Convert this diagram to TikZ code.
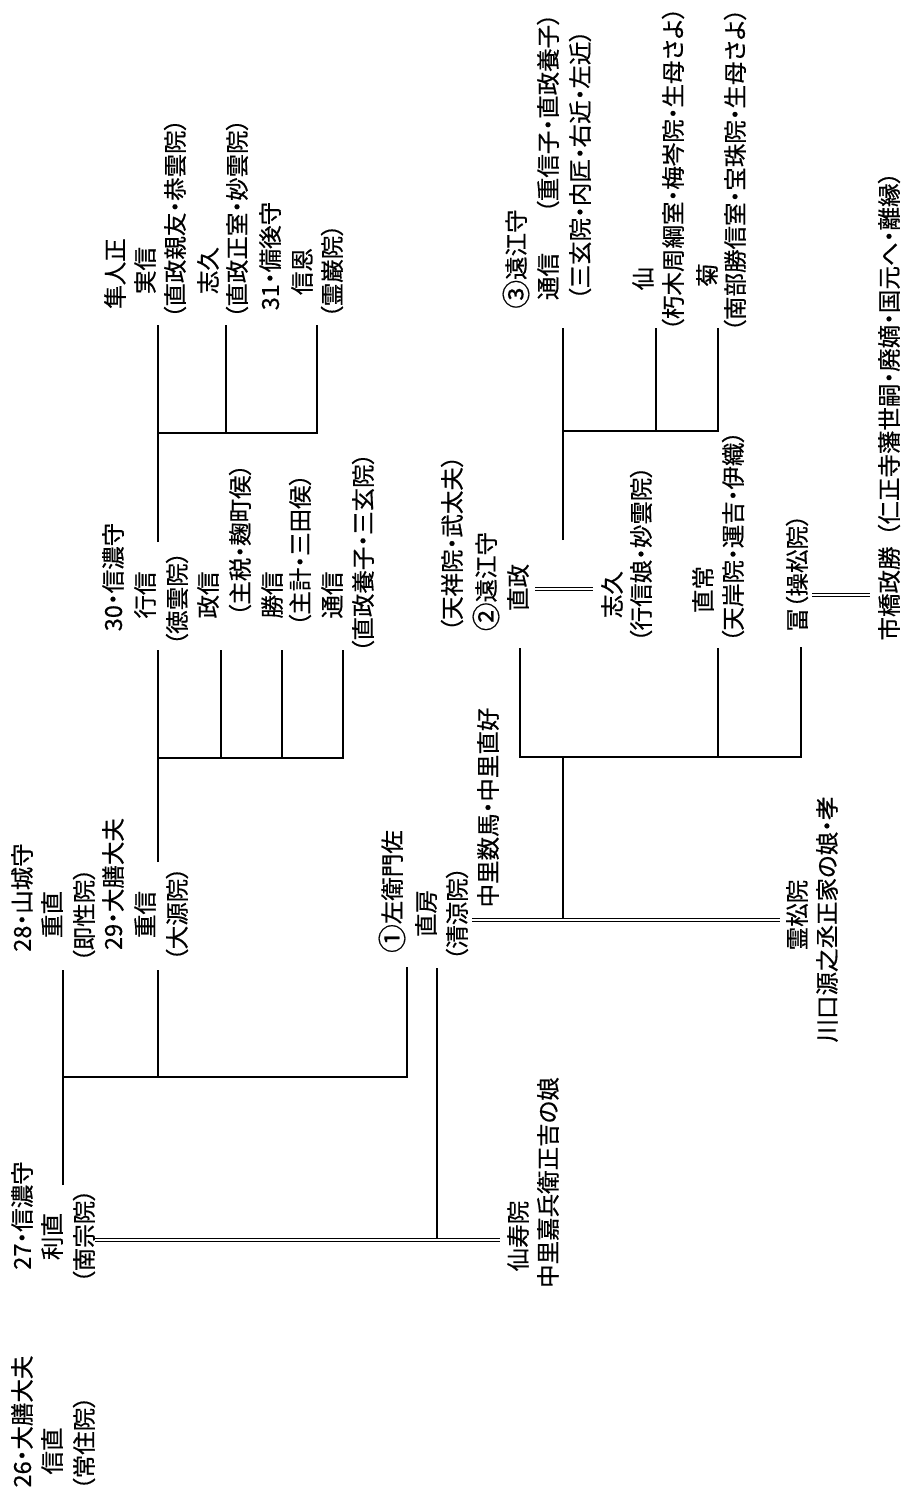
\documentclass[tikz,border=0pt]{standalone}
\usepackage{fontspec}
\newfontfamily\jp[RawFeature=+palt,FakeBold=0.5]{Noto Sans CJK JP}
\newcommand{\cnum}[1]{\raisebox{-0.08em}{\scalebox{1.22}{#1}}}
\begin{document}
\begin{tikzpicture}[x=1pt,y=-1pt,
  t/.style={rotate=90,inner sep=0pt,font=\jp\fontsize{23.5}{28}\selectfont},
  ln/.style={line width=1.6pt},
  mar/.style={double,double distance=2.4pt,line width=1pt}]
\useasboundingbox[fill=white] (0,0) rectangle (902,1492);

% --- generation 26 / 27
\node[t] (A1) at (22,1421.5) {26・大膳大夫};
\node[t] (A2) at (52,1451) {信直};
\node[t] (A3) at (84,1443) {（常住院）};
\node[t] (B1) at (22,1215.5) {27・信濃守};
\node[t] (B2) at (52,1236.5) {利直};
\node[t] (B3) at (84,1236) {（南宗院）};
\node[t] (M1) at (518,1236) {仙寿院};
\node[t] (M2) at (548,1182.5) {中里嘉兵衛正吉の娘};

% --- 28 / 29 / ①
\node[t] (C1) at (22,897.5) {28・山城守};
\node[t] (C2) at (52,914.5) {重直};
\node[t] (C3) at (84,915) {（即性院）};
\node[t] (D1) at (113,884) {29・大膳大夫};
\node[t] (D2) at (145,914.5) {重信};
\node[t] (D3) at (177,914) {（大源院）};
\node[t] (L1) at (392,891.5) {\cnum{①}左衛門佐};
\node[t] (L2) at (426,913.5) {直房};
\node[t] (L3) at (457,913.5) {（清涼院）};
\node[t] (N1) at (488,807.5) {中里数馬・中里直好};
\node[t] (T1) at (797,915) {霊松院};
\node[t] (T2) at (827,919.5) {川口源之丞正家の娘・孝};

% --- 30 and brothers
\node[t] (E1) at (113,577) {30・信濃守};
\node[t] (E2) at (145,595) {行信};
\node[t] (E3) at (177,598.5) {（徳雲院）};
\node[t] (F1) at (208,595) {政信};
\node[t] (F2) at (240,540) {（主税・麹町侯）};
\node[t] (G1) at (272,595) {勝信};
\node[t] (G2) at (300,550) {（主計・三田侯）};
\node[t] (H1) at (332,595) {通信};
\node[t] (H2) at (363,552.5) {（直政養子・三玄院）};

% --- children of 30
\node[t] (I1) at (115,273.5) {隼人正};
\node[t] (I2) at (145,270.5) {実信};
\node[t] (I3) at (175,218.5) {（直政親友・恭雲院）};
\node[t] (J1) at (208,270.5) {志久};
\node[t] (J2) at (237,218.5) {（直政正室・妙雲院）};
\node[t] (K1) at (270,256) {31・備後守};
\node[t] (K2) at (302,271.5) {信恩};
\node[t] (K3) at (332,271) {（霊巌院）};

% --- ② and siblings
\node[t] (O1) at (452,543.5) {（天祥院・武太夫）};
\node[t] (O2) at (486,581.5) {\cnum{②}遠江守};
\node[t] (O3) at (518,587.5) {直政};
\node[t] (P1) at (612,594.5) {志久};
\node[t] (P2) at (641,554) {（行信娘・妙雲院）};
\node[t] (Q1) at (703,589.5) {直常};
\node[t] (Q2) at (733,536.5) {（天岸院・運吉・伊織）};
\node[t] (R1) at (797,573) {冨（操松院）};
\node[t] (S1) at (889,593.5) {市橋政勝};
\node[t] (S2) at (889,354) {（仁正寺藩世嗣・廃嫡・国元へ・離縁）};

% --- ③ and siblings
\node[t] (U1) at (516,259) {\cnum{③}遠江守};
\node[t] (U2) at (548,276.5) {通信};
\node[t] (U4) at (548,113) {（重信子・直政養子）};
\node[t] (U3) at (580,165) {（三玄院・内匠・右近・左近）};
\node[t] (V2) at (673,169) {（朽木周綱室・梅岑院・生母さよ）};
\node[t] (V1) at (643,278.5) {仙};
\node[t] (W1) at (707,275) {菊};
\node[t] (W2) at (735,170) {（南部勝信室・宝珠院・生母さよ）};

% ===== connectors
% 27 -> 28, 29, ①
\coordinate (a27) at (63,1185);
\coordinate (a28) at (63,970);
\coordinate (bL) at (63,1077);
\coordinate (bM) at (158,1077);
\coordinate (bR) at (407,1077);
\coordinate (a29) at (158,970);
\coordinate (a1) at (407,967);
\draw[ln] (a27) -- (a28);
\draw[ln] (bL) -- (bR) -- (a1);
\draw[ln] (a29) -- (bM);
% 利直 = 仙寿院, child 直房
\coordinate (m1L) at (95,1240);
\coordinate (m1R) at (500,1240);
\coordinate (s1a) at (437,968);
\coordinate (s1b) at (437,1240);
\draw[ln] (s1a) -- (s1b);
\draw[mar] (m1L) -- (m1R);

% 29 -> 30, 政信, 勝信, 通信
\coordinate (c29) at (158,862);
\coordinate (c30) at (158,650);
\coordinate (d0) at (158,758);
\coordinate (d1) at (221,758);
\coordinate (d2) at (282,758);
\coordinate (d3) at (343,758);
\coordinate (e1) at (221,650);
\coordinate (e2) at (282,650);
\coordinate (e3) at (343,650);
\draw[ln] (c29) -- (c30);
\draw[ln] (d0) -- (d3) -- (e3);
\draw[ln] (d1) -- (e1);
\draw[ln] (d2) -- (e2);

% 30 -> 実信, 志久, 31
\coordinate (f30) at (158,542);
\coordinate (fI) at (158,325);
\coordinate (g0) at (158,433);
\coordinate (g1) at (226,433);
\coordinate (g2) at (317,433);
\coordinate (hJ) at (226,325);
\coordinate (hK) at (317,325);
\draw[ln] (f30) -- (fI);
\draw[ln] (g0) -- (g2) -- (hK);
\draw[ln] (g1) -- (hJ);

% 直房 = 霊松院, children ② 直常 冨
\coordinate (m2L) at (472,920);
\coordinate (m2R) at (780,920);
\coordinate (s2a) at (563,757);
\coordinate (s2b) at (563,920);
\coordinate (kO) at (520,648);
\coordinate (kQ) at (718,648);
\coordinate (kR) at (801,647);
\coordinate (jO) at (520,757);
\coordinate (jQ) at (718,757);
\coordinate (jR) at (801,757);
\draw[ln] (s2a) -- (s2b);
\draw[ln] (kO) -- (jO) -- (jR) -- (kR);
\draw[ln] (jQ) -- (kQ);
\draw[mar] (m2L) -- (m2R);

% 直政 = 志久, children ③ 仙 菊
\coordinate (m3L) at (535,589);
\coordinate (m3R) at (593,589);
\draw[mar] (m3L) -- (m3R);
\coordinate (s3a) at (563,540);
\coordinate (s3b) at (563,328);
\coordinate (n0) at (563,431);
\coordinate (n1) at (656,431);
\coordinate (n2) at (718,431);
\coordinate (oV) at (656,328);
\coordinate (oW) at (718,328);
\draw[ln] (s3a) -- (s3b);
\draw[ln] (n0) -- (n2) -- (oW);
\draw[ln] (n1) -- (oV);

% 冨 = 市橋政勝
\coordinate (m4L) at (812,595);
\coordinate (m4R) at (870,595);
\draw[mar] (m4L) -- (m4R);
\end{tikzpicture}
\end{document}
